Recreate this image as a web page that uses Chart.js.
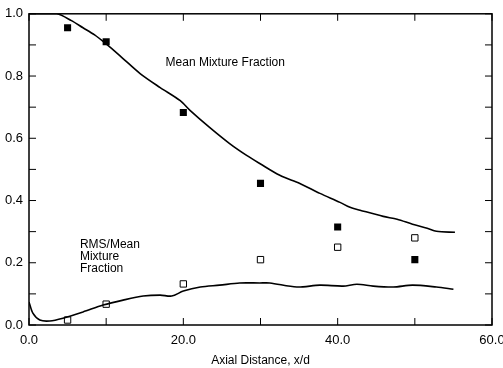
<!DOCTYPE html>
<html>
<head>
<meta charset="utf-8">
<title>Mixture Fraction</title>
<script src="https://cdn.jsdelivr.net/npm/chart.js@4.4.0/dist/chart.umd.min.js"></script>
<style>
    html, body { margin: 0; padding: 0; background: #fff; }
    #wrap { width: 503px; height: 368px; }
</style>
</head>
<body>
<div id="wrap"><canvas id="mixture-chart" width="503" height="368"></canvas></div>
<script>
    // Measured points
    var measX = [5, 10, 20, 30, 40, 50];
    var meanMeas = [0.955, 0.91, 0.683, 0.455, 0.315, 0.21];
    var rmsMeas = [0.016, 0.067, 0.132, 0.21, 0.25, 0.28];

    // Predicted mean mixture fraction
    var meanCurveX = [0, 3.6, 5.5, 7, 8.5, 9.8, 11.8, 14.4, 17, 19.6, 20.9, 23.4, 26, 28.2, 29.9, 32.5, 35.1, 37.7, 40.3, 41.6, 42.9, 45.9, 47.7, 49.7, 51.6, 52.8, 55.2];
    var meanCurveY = [1.0, 1.0, 0.978, 0.955, 0.932, 0.907, 0.865, 0.808, 0.763, 0.721, 0.689, 0.635, 0.583, 0.545, 0.519, 0.481, 0.455, 0.423, 0.394, 0.378, 0.369, 0.349, 0.34, 0.324, 0.311, 0.301, 0.298];

    // Predicted RMS / mean
    var rmsCurveX = [0, 0.5, 1.4, 2.7, 4.4, 7, 9.6, 12.2, 14.8, 17, 18.5, 20, 22.2, 24.7, 27.3, 29.9, 31.2, 34.7, 37.7, 40.7, 42.5, 44.6, 47.2, 49.7, 52.8, 55];
    var rmsCurveY = [0.074, 0.038, 0.016, 0.013, 0.022, 0.042, 0.064, 0.08, 0.093, 0.096, 0.093, 0.109, 0.122, 0.128, 0.135, 0.135, 0.135, 0.122, 0.128, 0.125, 0.131, 0.125, 0.122, 0.128, 0.122, 0.115];

    var xTickLabels = ['0.0', '20.0', '40.0', '60.0'];
    var yTickLabels = ['0.0', '0.2', '0.4', '0.6', '0.8', '1.0'];

    function pts(xs, ys) {
        return xs.map(function (x, i) { return {x: x, y: ys[i]}; });
    }

    var font = 'Liberation Sans, Arial, Helvetica, sans-serif';

    // Frame, inward ticks and annotations
    var framePlugin = {
        id: 'frame',
        afterDatasetsDraw: function (chart) {
            var ctx = chart.ctx, a = chart.chartArea;
            var xs = chart.scales.x, ys = chart.scales.y;
            var len = 7;
            ctx.save();
            ctx.strokeStyle = '#000';
            ctx.lineWidth = 1.5;
            ctx.strokeRect(a.left, a.top, a.right - a.left, a.bottom - a.top);
            ctx.lineWidth = 1;
            ctx.beginPath();
            xs.ticks.forEach(function (t) {
                var px = xs.getPixelForValue(t.value);
                ctx.moveTo(px, a.bottom); ctx.lineTo(px, a.bottom - len);
                ctx.moveTo(px, a.top); ctx.lineTo(px, a.top + len);
            });
            ys.ticks.forEach(function (t) {
                var py = ys.getPixelForValue(t.value);
                ctx.moveTo(a.left, py); ctx.lineTo(a.left + len, py);
                ctx.moveTo(a.right, py); ctx.lineTo(a.right - len, py);
            });
            ctx.stroke();

            ctx.fillStyle = '#000';
            ctx.font = '12px ' + font;
            ctx.textBaseline = 'middle';
            ctx.textAlign = 'left';
            ctx.fillText('Mean Mixture Fraction', xs.getPixelForValue(17.7), ys.getPixelForValue(0.843));
            var lx = xs.getPixelForValue(6.6);
            ctx.fillText('RMS/Mean', lx, ys.getPixelForValue(0.257));
            ctx.fillText('Mixture', lx, ys.getPixelForValue(0.218));
            ctx.fillText('Fraction', lx, ys.getPixelForValue(0.18));
            ctx.restore();
        }
    };

    var ctx1 = document.getElementById('mixture-chart').getContext('2d');
    var myChart1 = new Chart(ctx1, {
        type: 'scatter',
        data: {
            datasets: [{
                    label: 'Mean (predicted)',
                    data: pts(meanCurveX, meanCurveY),
                    showLine: true,
                    borderColor: '#000',
                    borderWidth: 1.6,
                    pointRadius: 0,
                    tension: 0.3
                },
                {
                    label: 'RMS/Mean (predicted)',
                    data: pts(rmsCurveX, rmsCurveY),
                    showLine: true,
                    borderColor: '#000',
                    borderWidth: 1.6,
                    pointRadius: 0,
                    tension: 0.3
                },
                {
                    label: 'Mean (measured)',
                    data: pts(measX, meanMeas),
                    pointStyle: 'rect',
                    pointRadius: 5,
                    backgroundColor: '#000',
                    borderColor: '#000',
                    borderWidth: 0
                },
                {
                    label: 'RMS/Mean (measured)',
                    data: pts(measX, rmsMeas),
                    pointStyle: 'rect',
                    pointRadius: 4.5,
                    backgroundColor: '#fff',
                    borderColor: '#000',
                    borderWidth: 1
                }
            ]
        },
        options: {
            responsive: false,
            animation: false,
            layout: { padding: { top: 13, right: 11, left: 0, bottom: 0 } },
            plugins: {
                legend: { display: false },
                tooltip: { enabled: false }
            },
            scales: {
                x: {
                    type: 'linear',
                    min: 0,
                    max: 60,
                    grid: { display: false, drawTicks: false },
                    border: { display: false },
                    ticks: {
                        stepSize: 10,
                        padding: 8,
                        color: '#000',
                        maxRotation: 0,
                        font: { family: font, size: 13 },
                        callback: function (v) {
                            return v % 20 === 0 ? xTickLabels[v / 20] : '';
                        }
                    },
                    title: {
                        display: true,
                        text: 'Axial Distance, x/d',
                        color: '#000',
                        font: { family: font, size: 12 },
                        padding: { top: 4, bottom: 0 }
                    },
                    afterFit: function (scale) {
                        scale.height = 43;
                        scale.paddingLeft = 0;
                        scale.paddingRight = 0;
                    }
                },
                y: {
                    min: 0,
                    max: 1,
                    grid: { display: false, drawTicks: false },
                    border: { display: false },
                    ticks: {
                        stepSize: 0.1,
                        padding: 6,
                        color: '#000',
                        font: { family: font, size: 13 },
                        callback: function (v) {
                            var k = Math.round(v * 10);
                            return k % 2 === 0 ? yTickLabels[k / 2] : '';
                        }
                    },
                    afterFit: function (scale) {
                        scale.width = 29;
                    }
                }
            }
        },
        plugins: [framePlugin]
    });
</script>
</body>
</html>
